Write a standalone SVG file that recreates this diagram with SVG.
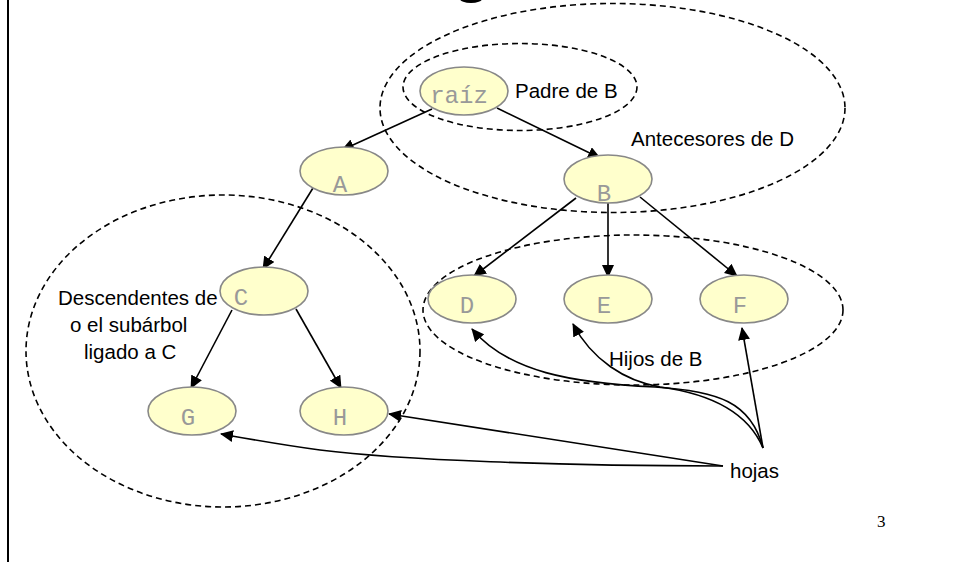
<svg xmlns="http://www.w3.org/2000/svg" width="960" height="562" viewBox="0 0 960 562">
<style>
.node{fill:#FFFFCC;stroke:#888888;stroke-width:1.6}
.nt{font-family:"Liberation Mono","Courier New",monospace;font-size:24px;fill:#999999;text-anchor:middle}
.lbl{font-family:"Liberation Sans",Arial,sans-serif;font-size:20.5px;fill:#000000}
.grp{fill:none;stroke:#000000;stroke-width:1.6;stroke-dasharray:6 4}
.edge{fill:none;stroke:#000000;stroke-width:1.6;marker-end:url(#arr)}
</style>
<defs>
<marker id="arr" markerUnits="userSpaceOnUse" markerWidth="13" markerHeight="12" viewBox="0 0 13 12" refX="12" refY="6" orient="auto">
<path d="M0,0 L13,6 L0,12 z" fill="#000000"/>
</marker>
</defs>
<rect x="0" y="0" width="960" height="562" fill="#ffffff"/>
<rect x="7" y="0" width="2" height="562" fill="#000000"/>
<ellipse cx="471" cy="-1" rx="11" ry="4" fill="#000000"/>

<g id="groups">
<ellipse class="grp" cx="612.5" cy="108" rx="232.5" ry="104.5"/>
<ellipse class="grp" cx="520" cy="87" rx="117" ry="43.5"/>
<ellipse class="grp" cx="633" cy="310" rx="210" ry="75"/>
<ellipse class="grp" cx="223" cy="351" rx="197" ry="156"/>
</g>

<g id="connectors">
<path class="edge" d="M432,109 L342,150"/>
<path class="edge" d="M497,108 L600,158"/>
<path class="edge" d="M313,188 L263,269"/>
<path class="edge" d="M232,310 L191,388"/>
<path class="edge" d="M296,309 L341,388"/>
<path class="edge" d="M576,198 L474,276"/>
<path class="edge" d="M608,203 L608,277"/>
<path class="edge" d="M640,197 L737,276"/>
<path class="edge" d="M763,448 C751,402 718,391 655,387 C572,383 508,372 472,329"/>
<path class="edge" d="M763,448 C747,410 705,393 660,387 C625,381 592,360 573,324"/>
<path class="edge" d="M763,448 L742,328"/>
<path class="edge" d="M723,466 L389,414"/>
<path class="edge" d="M723,466 C560,466 400,460 320,450 C282,445 255,440 221,434"/>
</g>

<g id="node-raiz"><ellipse class="node" cx="464" cy="91" rx="44" ry="24"/><text class="nt" x="459" y="103">raíz</text></g>
<g id="node-A"><ellipse class="node" cx="344" cy="171" rx="44" ry="24"/><text class="nt" x="340" y="192">A</text></g>
<g id="node-B"><ellipse class="node" cx="608" cy="179" rx="44" ry="24"/><text class="nt" x="604" y="201">B</text></g>
<g id="node-C"><ellipse class="node" cx="264" cy="291" rx="44" ry="24"/><text class="nt" x="241" y="305">C</text></g>
<g id="node-D"><ellipse class="node" cx="472" cy="299" rx="44" ry="24"/><text class="nt" x="467" y="313">D</text></g>
<g id="node-E"><ellipse class="node" cx="608" cy="299" rx="44" ry="24"/><text class="nt" x="604" y="313">E</text></g>
<g id="node-F"><ellipse class="node" cx="744" cy="299" rx="44" ry="24"/><text class="nt" x="740" y="313">F</text></g>
<g id="node-G"><ellipse class="node" cx="192" cy="411" rx="44" ry="24"/><text class="nt" x="188" y="425">G</text></g>
<g id="node-H"><ellipse class="node" cx="344" cy="411" rx="44" ry="24"/><text class="nt" x="340" y="425">H</text></g>

<g id="labels">
<text class="lbl" x="515" y="97.5">Padre de B</text>
<text class="lbl" x="631" y="146">Antecesores de D</text>
<text class="lbl" x="58" y="305">Descendentes de</text>
<text class="lbl" x="70" y="332">o el subárbol</text>
<text class="lbl" x="84" y="359">ligado a C</text>
<text class="lbl" x="609" y="366">Hijos de B</text>
<text class="lbl" x="730" y="478">hojas</text>
<text x="877" y="527" font-family="'Liberation Serif','Times New Roman',serif" font-size="17" fill="#000000">3</text>
</g>
</svg>
